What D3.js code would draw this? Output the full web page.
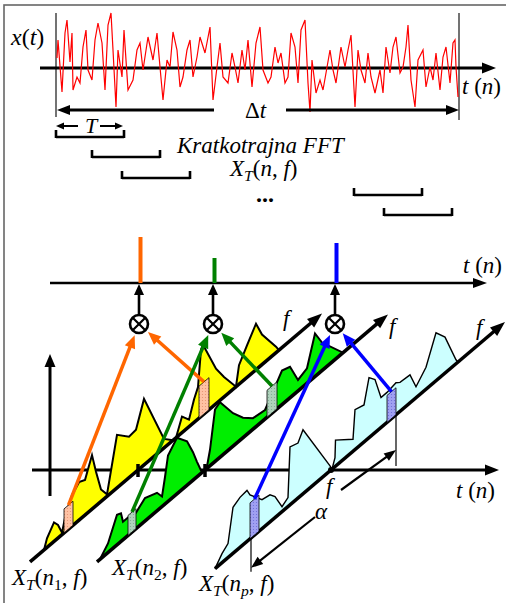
<!DOCTYPE html>
<html><head><meta charset="utf-8">
<script src="https://cdn.jsdelivr.net/npm/d3@7"></script>
<style>
body{margin:0;background:#fff}
svg{display:block}
text{font-family:"Liberation Serif","Times New Roman",serif;fill:#000}
</style>
</head><body>
<svg id="c" width="506" height="603"></svg>
<script>
// ---------------- DATA ----------------
// time signal x(t): sample positions and amplitudes
const sigN = [0,1,5,8,10,13,15,16,20,23,26,29,31,35,38,41,45,48,51,54,56,59,61,65,67,71,76,80,83,86,91,96,100,103,106,110,113,116,120,123,126,130,133,136,140,143,148,153,156,160,163,166,171,175,178,181,185,188,191,195,199,203,206,211,214,218,221,224,228,231,234,238,241,244,248,251,253,255,259,263,266,269,273,276,279,284,288,291,294,298,301,304,308,311,314,318,323,326,329,333,336,339,343,346,349,351,354,358,361,366,369,373,376,379,383,386,389,393,396,398,399,401];
const sigV = [10,28,-24,35,48,6,35,-22,-9,-15,21,38,-2,-12,28,45,25,-22,43,55,18,-39,18,-9,38,-22,-12,18,25,-2,31,8,35,1,-32,8,1,36,18,-19,-9,18,28,-9,11,31,15,41,-32,1,25,-9,-15,15,1,-15,18,-2,28,-19,25,41,-2,-15,-9,21,5,15,-15,-9,35,21,-15,38,48,-15,-44,8,-25,-12,-22,-5,18,-2,-15,21,1,18,33,-39,18,-2,-15,15,-9,-25,-2,-25,21,-5,21,31,-5,1,21,43,-12,-39,8,18,-19,1,-12,15,-22,11,21,-15,25,28,1,-29];

// short-time windows (start sample, length)
const winStart = [0, 36, 66, 298, 328];
const winLen = 68;

// spectra |X_T(n_i,f)| : [frequency offset, magnitude]
const specYellow = [[-94,0],[-91,9],[-84,19],[-80,13],[-76,2],[-73,14],[-66,31],[-59,38],[-53,35],[-46,54],[-42,34],[-37,12],[-31,2],[-21,53],[-9,41],[-2,42],[6,66],[26,9],[35,0],[38,0],[44,16],[51,7],[56,23],[60,32],[63,67],[65,70],[78,35],[86,20],[98,0],[101,19],[109,32],[118,46],[124,30],[138,6],[141,0]];
const specGreen = [[-105,0],[-97,9],[-88,30],[-84,28],[-82,18],[-77,18],[-69,16],[-60,23],[-48,18],[-43,10],[-40,27],[-37,46],[-28,56],[-18,44],[-12,28],[-8,15],[-4,3],[0,0],[2,2],[5,16],[10,52],[15,55],[28,33],[38,20],[48,11],[60,9],[73,28],[77,34],[85,31],[93,11],[102,15],[110,43],[117,28],[138,0]];
const specCyan = [[-116,0],[-109,9],[-103,14],[-98,46],[-91,50],[-84,51],[-81,44],[-69,29],[-61,27],[-56,21],[-49,5],[-43,9],[-41,58],[-33,55],[-28,64],[-1,5],[1,0],[4,9],[4.5,26],[22,12],[24,40],[33,37],[38,60],[44,53],[50,30],[56,30],[65,32],[69,29],[79,28],[85,11],[95,22],[105,48],[114,36],[125,4],[127,0]];

// selected bins on each spectrum: [start offset, width, magnitude]
const binsYellow = [[-74,9,24],[61,10,32]];
const binsGreen  = [[-77,8,20],[62,10,27]];
const binsCyan   = [[-81,9,36],[56,9,27]];

// output (correlation) magnitudes at n1, n2, np
const outMag = [46, 25, 40];

// ---------------- DRAW ----------------
const svg = d3.select('#c');
const defs = svg.append('defs');
function dotPattern(id, bg, dot){
  const p = defs.append('pattern').attr('id',id).attr('width',3).attr('height',3).attr('patternUnits','userSpaceOnUse');
  p.append('rect').attr('width',3).attr('height',3).attr('fill',bg);
  p.append('circle').attr('cx',1.5).attr('cy',1.5).attr('r',0.6).attr('fill',dot);
}
dotPattern('pPink','#FFC2A4','#E4906E');
dotPattern('pGrey','#AFD2BC','#7FA890');
dotPattern('pBlue','#A0A0F2','#6A6AD8');

// frame
svg.append('rect').attr('x',4).attr('y',5).attr('width',520).attr('height',620)
   .attr('fill','none').attr('stroke','#666').attr('stroke-width',1.6);

function arrow(g,x1,y1,x2,y2,color,w,hl,hw){
  const dx=x2-x1, dy=y2-y1, L=Math.hypot(dx,dy), ux=dx/L, uy=dy/L;
  const bx=x2-ux*hl, by=y2-uy*hl;
  g.append('line').attr('x1',x1).attr('y1',y1).attr('x2',bx+ux*2).attr('y2',by+uy*2)
   .attr('stroke',color).attr('stroke-width',w);
  g.append('path').attr('d',`M${x2},${y2}L${bx-uy*hw/2},${by+ux*hw/2}L${bx+uy*hw/2},${by-ux*hw/2}Z`).attr('fill',color);
}
function rich(x,y,size,parts){
  const t = svg.append('text').attr('x',x).attr('y',y).attr('font-size',size);
  parts.forEach(p=>{
    const s = t.append('tspan').text(p.t);
    if(p.i) s.attr('font-style','italic');
    if(p.sub){ s.attr('font-size',size*0.68).attr('dy',size*0.22); }
    if(p.back){ s.attr('dy',-size*0.22); }
  });
  return t;
}

// ---- top panel: signal ----
const g0 = svg.append('g');
const xs = d3.scaleLinear().domain([0,402]).range([57,459]);
const ys = d3.scaleLinear().domain([-50,50]).range([118,18]);
g0.append('line').attr('x1',56).attr('y1',13).attr('x2',56).attr('y2',117).attr('stroke','#444').attr('stroke-width',1.5);
g0.append('line').attr('x1',459).attr('y1',13).attr('x2',459).attr('y2',120).attr('stroke','#444').attr('stroke-width',1.5);
arrow(g0,40,ys(0),496,ys(0),'#000',3,14,11);
g0.append('path').datum(sigN.map((n,i)=>[n,sigV[i]]))
  .attr('d',d3.line().x(d=>xs(d[0])).y(d=>ys(d[1])))
  .attr('fill','none').attr('stroke','#ff0000').attr('stroke-width',1.2);
rich(11,45,24,[{t:'x',i:1},{t:'('},{t:'t',i:1},{t:')'}]);
rich(462,94,23,[{t:'t',i:1},{t:' ('},{t:'n',i:1},{t:')'}]);
// delta t arrows
arrow(g0,214,110,57,110,'#000',3,13,10);
arrow(g0,286,110,459,110,'#000',3,13,10);
rich(245,118,23,[{t:'Δ'},{t:'t',i:1}]);
// T arrows
const wx = d3.scaleLinear().domain([0,402]).range([56,458]);
arrow(g0,78,126,wx(0),126,'#000',2,8,7);
arrow(g0,100,126,wx(winLen)-1,126,'#000',2,8,7);
rich(85,133,22,[{t:'T',i:1}]);
// windows
const winY = [137,157,178,195,215];
winStart.forEach((s,i)=>{
  const a=wx(s), b=wx(s+winLen), y=winY[i];
  g0.append('path').attr('d',`M${a},${y-7}V${y+1}M${a},${y}H${b}M${b},${y-7}V${y+1}`)
    .attr('fill','none').attr('stroke','#000').attr('stroke-width',2.6);
});
rich(177,153,23,[{t:'Kratkotrajna FFT',i:1}]);
rich(230,176,23,[{t:'X',i:1},{t:'T',i:1,sub:1},{t:'(',back:1},{t:'n',i:1},{t:', '},{t:'f',i:1},{t:')'}]);
svg.append('text').attr('x',256).attr('y',202).attr('font-size',24).attr('font-weight','bold').text('...');

// ---- bottom panel ----
const slope = 0.85, baseY = 470;
const crossX = [138, 205, 331];
const uS = d3.scaleLinear().domain([-150,200]).range([-150,200]);
const aS = d3.scaleLinear().domain([0,100]).range([0,100]);
const P = (i,u,h)=>[crossX[i]+uS(u), baseY - slope*uS(u) - aS(h)];

const g1 = svg.append('g');
// upper t axis
arrow(g1,50,283,487,283,'#000',2.5,14,10);
rich(463,273,23,[{t:'t',i:1},{t:' ('},{t:'n',i:1},{t:')'}]);
// lower t axis
arrow(g1,32,baseY,499,baseY,'#000',3,14,11);
rich(456,498,23,[{t:'t',i:1},{t:' ('},{t:'n',i:1},{t:')'}]);
// left vertical arrow
arrow(g1,50,496,50,354,'#000',3,13,11);

const specs = [specYellow, specGreen, specCyan];
const fills = ['#FFFF00','#00EE00','#CCFFFF'];
const strokeW = [2,2,1.4];
const order = [2,1,0];
const line = d3.line().x(d=>d[0]).y(d=>d[1]);
order.forEach(i=>{
  const pts = specs[i].map(d=>P(i,d[0],d[1]));
  g1.append('path').attr('d',line(pts)+'Z').attr('fill',fills[i])
    .attr('stroke','#000').attr('stroke-width',strokeW[i]).attr('stroke-linejoin','miter');
});
// f axes
const axU = [[-108,184],[-108,183],[-116,174]];
axU.forEach((r,i)=>{
  const a=P(i,r[0],0), b=P(i,r[1],0);
  arrow(g1,a[0],a[1],b[0],b[1],'#000',3.5,15,11);
});
// crossing ticks
[0,1].forEach(i=>{
  g1.append('line').attr('x1',crossX[i]).attr('x2',crossX[i]).attr('y1',baseY-6).attr('y2',baseY+7)
    .attr('stroke','#000').attr('stroke-width',3.5);
});
g1.append('circle').attr('cx',crossX[2]).attr('cy',baseY).attr('r',3).attr('fill','#000');

// f labels
rich(283,326,23,[{t:'f',i:1}]);
rich(389,334,23,[{t:'f',i:1}]);
rich(476,335,23,[{t:'f',i:1}]);
rich(326,494,23,[{t:'f',i:1}]);

// bins
const bins = [binsYellow, binsGreen, binsCyan];
const pats = ['url(#pPink)','url(#pGrey)','url(#pBlue)'];
const binTop = [];
bins.forEach((bs,i)=>{
  binTop.push([]);
  bs.forEach(b=>{
    const p1=P(i,b[0],0), p2=P(i,b[0]+b[1],0), p3=P(i,b[0]+b[1],b[2]), p4=P(i,b[0],b[2]);
    g1.append('path').attr('d',`M${p1}L${p2}L${p3}L${p4}Z`).attr('fill',pats[i])
      .attr('stroke','#000').attr('stroke-width',0.8);
    binTop[i].push(P(i,b[0]+b[1]/2,b[2]));
  });
});

// alpha annotation (on third spectrum)
const bA = binsCyan[0], bB = binsCyan[1];
const footA = P(2,bA[0],0), footB = P(2,bB[0]+bB[1],0);
g1.append('line').attr('x1',footB[0]).attr('x2',footB[0]).attr('y1',footB[1]).attr('y2',baseY-4)
  .attr('stroke','#000').attr('stroke-width',1.2);
g1.append('line').attr('x1',footA[0]+1).attr('x2',footA[0]+1).attr('y1',footA[1]).attr('y2',footA[1]+33)
  .attr('stroke','#000').attr('stroke-width',1.2);
arrow(g1,341,490,footB[0],baseY-20,'#000',2.2,12,9);
arrow(g1,315,517,footA[0]+1,footA[1]+29,'#000',2.2,12,9);
rich(315,519,23,[{t:'α',i:1}]);

// multipliers
const circX = [139,213,335], circY = 324, R = 9;
const colors = ['#FF6600','#008000','#0000FF'];
circX.forEach((cx,i)=>{
  // output spike
  g1.append('line').attr('x1',cx+1.5).attr('x2',cx+1.5).attr('y1',283).attr('y2',283-outMag[i])
    .attr('stroke',colors[i]).attr('stroke-width',4);
  arrow(g1,cx,circY-R,cx,284,'#000',2.6,11,10);
  g1.append('circle').attr('cx',cx).attr('cy',circY).attr('r',R).attr('fill','#fff')
    .attr('stroke','#000').attr('stroke-width',2.6);
  const d = R*0.7;
  g1.append('path').attr('d',`M${cx-d},${circY-d}L${cx+d},${circY+d}M${cx+d},${circY-d}L${cx-d},${circY+d}`)
    .attr('stroke','#000').attr('stroke-width',2.2);
});
// colored arrows from bins to multipliers
binTop.forEach((tops,i)=>{
  tops.forEach(tp=>{
    const cx=circX[i], cy=circY;
    const dx=cx-tp[0], dy=cy-tp[1], L=Math.hypot(dx,dy);
    const ex = cx - dx/L*(R+3), ey = cy - dy/L*(R+3);
    arrow(g1,tp[0],tp[1],ex,ey,colors[i],3.5,13,11);
  });
});

// bottom labels
rich(12,585,23,[{t:'X',i:1},{t:'T',i:1,sub:1},{t:'(',back:1},{t:'n',i:1},{t:'1',sub:1},{t:', ',back:1},{t:'f',i:1},{t:')'}]);
rich(112,575,23,[{t:'X',i:1},{t:'T',i:1,sub:1},{t:'(',back:1},{t:'n',i:1},{t:'2',sub:1},{t:', ',back:1},{t:'f',i:1},{t:')'}]);
rich(199,591,23,[{t:'X',i:1},{t:'T',i:1,sub:1},{t:'(',back:1},{t:'n',i:1},{t:'p',i:1,sub:1},{t:', ',back:1},{t:'f',i:1},{t:')'}]);
</script>
</body></html>
